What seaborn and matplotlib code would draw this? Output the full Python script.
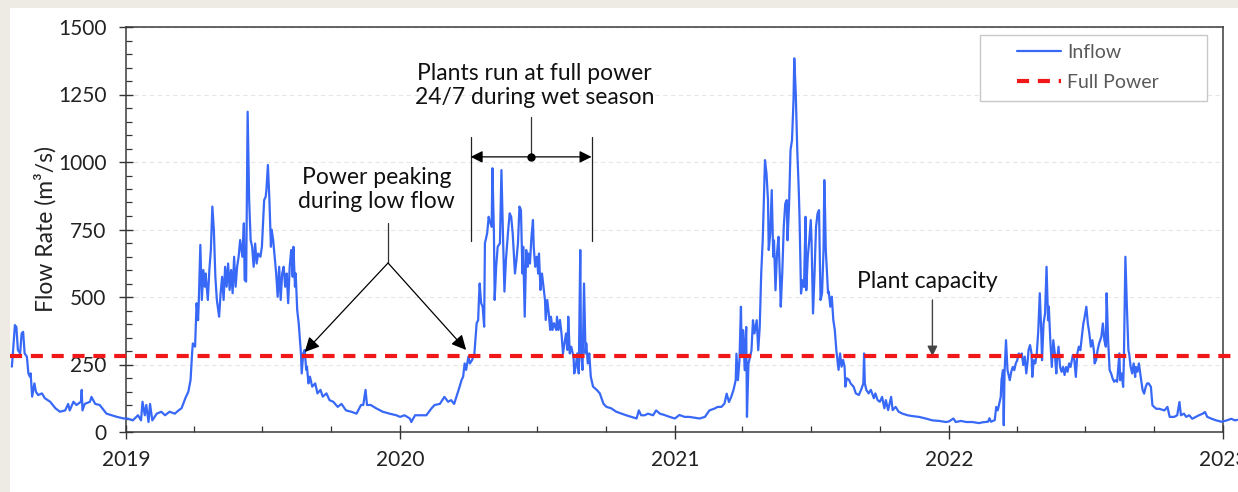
"""
Daily river inflow vs. hydro plant capacity, 2019-2022.
Writes out.png
"""

import pandas as pd
import matplotlib
matplotlib.use("Agg")
import matplotlib.pyplot as plt
import matplotlib.dates as mdates
from matplotlib.lines import Line2D
from matplotlib.patches import Rectangle
from matplotlib.ticker import MultipleLocator
import seaborn as sns

# ── data ─────────────────────────────────────────────────────────────────────
# x = days counted from 2019-01-01, y = inflow in m3/s
day_a = [-152, -150, -148, -146, -144, -141, -139, -137, -135, -132,
         -130, -128, -127, -125, -122, -120, -117, -112, -108, -101,
         -94, -88, -81, -77, -75, -70, -66, -60, -59, -58,
         -55, -48, -46, -41, -35, -26, -19, -12, -3, 2,
         9, 16, 20, 22, 25, 27, 30, 32, 35, 41,
         47, 52, 58, 65, 70]
flow_a = [242, 316, 396, 389, 304, 291, 365, 371, 291, 279,
          217, 205, 217, 131, 180, 149, 137, 143, 125, 112,
          88, 75, 80, 104, 80, 112, 100, 112, 156, 80,
          104, 112, 130, 104, 100, 68, 62, 56, 50, 50,
          43, 62, 43, 112, 62, 100, 37, 104, 43, 68,
          75, 62, 75, 68, 80]

day_b = [74, 79, 83, 86, 88, 89, 92, 94, 96, 97,
         99, 101, 103, 105, 106, 109, 111, 113, 115, 117,
         119, 121, 124, 126, 128, 130, 132, 134, 136, 138,
         140, 142, 144, 146, 148, 150, 152, 155, 157, 158,
         160, 162, 164, 166, 168, 170, 172, 174, 176, 179,
         181, 184, 186, 187, 189, 191, 193, 194, 196, 198,
         200, 202, 204, 206, 208, 210, 212, 214, 216, 218,
         220, 222, 223, 225, 226, 228, 230, 233, 234, 236,
         238, 240, 241, 243, 245, 248, 252, 255, 259, 262,
         267, 271, 276, 282]
flow_b = [88, 125, 149, 193, 291, 328, 316, 477, 414, 489,
          693, 489, 600, 538, 587, 489, 600, 674, 835, 749,
          575, 489, 427, 514, 575, 489, 612, 538, 624, 526,
          600, 514, 649, 538, 612, 649, 711, 649, 773, 563,
          557, 1186, 859, 711, 686, 612, 698, 624, 661, 649,
          686, 859, 871, 896, 989, 859, 686, 749, 711, 649,
          587, 501, 612, 489, 587, 612, 538, 587, 477, 612,
          674, 575, 686, 538, 587, 452, 403, 291, 217, 291,
          304, 230, 242, 180, 205, 168, 180, 143, 156, 131,
          143, 118, 112, 93]

day_c = [287, 293, 300, 307, 313, 316, 319, 321, 326, 333,
         342, 351, 360, 365, 371, 378, 380, 385, 391, 400,
         407, 411, 418, 424, 429, 433, 437, 443, 447, 449,
         451, 453, 456, 458, 461, 464, 467, 469, 470, 471,
         473, 475, 477, 478, 481, 483]
flow_c = [104, 80, 75, 68, 100, 100, 156, 100, 100, 88,
          75, 68, 62, 56, 62, 50, 37, 62, 62, 62,
          88, 100, 104, 130, 112, 118, 104, 156, 193, 205,
          254, 230, 279, 254, 267, 291, 403, 414, 489, 550,
          477, 464, 390, 699, 736, 797]

day_d = [484, 487, 488, 490, 491, 493, 495, 498, 500, 502,
         504, 506, 509, 511, 513, 515, 518, 520, 522, 524,
         526, 528, 529, 531, 533, 535, 536, 538, 540, 542,
         543, 545, 547, 549, 550, 552, 554, 556, 558, 559,
         561, 563, 565, 566, 568, 570, 573, 574, 576, 578,
         580, 582, 584, 586, 588, 589, 591, 593, 596, 597,
         599, 601, 603, 605, 606, 608, 610, 612, 613, 615,
         617, 619, 622, 627, 631, 636, 640, 646, 653, 660,
         666, 673, 680, 683, 686, 691, 695, 702, 706, 711]
flow_d = [785, 760, 977, 736, 489, 612, 686, 699, 970, 736,
          520, 637, 748, 810, 797, 736, 587, 637, 699, 835,
          822, 587, 686, 427, 674, 612, 661, 624, 723, 785,
          686, 612, 649, 587, 661, 526, 587, 538, 489, 415,
          489, 440, 378, 427, 378, 403, 378, 427, 378, 415,
          365, 291, 328, 365, 304, 427, 291, 316, 279, 217,
          242, 291, 217, 674, 291, 230, 550, 291, 328, 254,
          291, 205, 168, 156, 143, 104, 93, 88, 75, 68,
          62, 56, 50, 80, 62, 62, 68, 62, 80, 68]

day_e = [717, 724, 731, 737, 744, 750, 757, 764, 771, 777,
         784, 788, 793, 797, 800, 803, 806, 809, 812, 813,
         815, 817, 819, 820, 822, 824, 826, 827, 829, 831,
         833, 835, 837, 840, 842, 844, 846, 848, 851, 853,
         855, 856, 858, 860, 862, 863, 865, 867, 869, 871,
         872, 874, 876, 878, 880, 881, 883, 885, 887, 889,
         890, 892, 894, 896, 897, 899, 901, 903, 905, 906,
         908, 910, 912, 913, 915, 917, 919, 921]
flow_e = [63, 56, 50, 63, 56, 56, 53, 50, 56, 80,
          87, 93, 93, 105, 142, 111, 130, 155, 192, 290,
          192, 266, 464, 290, 377, 229, 389, 56, 253, 278,
          302, 414, 365, 414, 303, 389, 588, 710, 1007, 958,
          859, 674, 735, 896, 649, 710, 525, 661, 723, 562,
          464, 587, 760, 846, 859, 710, 834, 1044, 1081, 1229,
          1384, 1254, 1044, 896, 797, 513, 562, 537, 797, 525,
          649, 710, 785, 710, 439, 587, 760, 809]

day_f = [923, 925, 927, 929, 930, 931, 932, 935, 936, 938,
         940, 942, 944, 946, 948, 949, 951, 953, 955, 957,
         958, 960, 963, 965, 969, 972, 976, 979, 982, 983,
         984, 986, 989, 992, 996, 998, 1001, 1004, 1007, 1010,
         1012, 1015, 1017, 1019, 1021, 1025, 1029, 1034, 1041, 1047,
         1056, 1065, 1074, 1083, 1092, 1096, 1102, 1105, 1112, 1119,
         1127, 1136]
flow_f = [822, 489, 514, 674, 933, 822, 674, 514, 520, 464,
          501, 415, 378, 304, 254, 230, 291, 242, 267, 242,
          168, 199, 193, 180, 168, 143, 137, 156, 180, 291,
          180, 156, 143, 156, 125, 143, 118, 112, 130, 88,
          118, 81, 105, 130, 81, 93, 75, 68, 62, 59,
          56, 50, 43, 41, 37, 39, 50, 37, 41, 37,
          37, 33]

day_g = [1141, 1148, 1150, 1152, 1157, 1159, 1161, 1163, 1165, 1166,
         1168, 1169, 1170, 1172, 1174, 1175, 1177, 1179, 1181, 1183,
         1185, 1187, 1189, 1191, 1193, 1195, 1197, 1199, 1201, 1202,
         1204, 1206, 1207, 1209, 1211, 1213, 1215, 1217, 1219, 1220,
         1222, 1224, 1226, 1228, 1229, 1231, 1233, 1235, 1237, 1239,
         1240, 1242, 1244, 1246, 1248, 1250, 1252, 1254, 1256, 1258,
         1261, 1263, 1265, 1267, 1269, 1271, 1273, 1275, 1276, 1279,
         1281, 1283, 1285, 1287, 1289, 1290, 1292, 1294]
flow_g = [36, 38, 51, 38, 44, 93, 80, 105, 130, 192,
          229, 25, 217, 340, 229, 217, 192, 223, 241, 229,
          254, 266, 291, 279, 291, 248, 279, 217, 266, 303,
          322, 291, 204, 266, 254, 291, 377, 514, 365, 266,
          402, 439, 612, 414, 464, 340, 241, 340, 291, 217,
          266, 316, 241, 223, 241, 211, 241, 223, 254, 241,
          285, 266, 204, 291, 316, 303, 353, 402, 414, 464,
          402, 365, 316, 340, 303, 254, 266, 303]

day_h = [1296, 1299, 1301, 1303, 1305, 1306, 1308, 1310, 1312, 1314,
         1316, 1318, 1320, 1323, 1324, 1326, 1328, 1329, 1331, 1333,
         1335, 1336, 1338, 1340, 1342, 1344, 1345, 1347, 1349, 1352,
         1354, 1356, 1358, 1360, 1362, 1365, 1367, 1372, 1376, 1383,
         1387, 1390, 1396, 1400, 1403, 1405, 1409, 1412, 1416, 1420,
         1425, 1429, 1434, 1437, 1440, 1446, 1452, 1459, 1466, 1472,
         1477, 1480]
flow_h = [328, 353, 402, 340, 316, 514, 340, 229, 217, 198,
          186, 192, 186, 291, 192, 217, 167, 266, 649, 464,
          303, 291, 241, 217, 254, 204, 241, 223, 254, 192,
          155, 142, 167, 180, 180, 167, 99, 86, 86, 80,
          93, 56, 56, 62, 111, 62, 68, 56, 62, 49,
          56, 62, 68, 74, 56, 49, 43, 38, 43, 49,
          43, 45]

CAPACITY = 280          # full-power flow, m3/s
CAP_SPAN = [-154, 1480]  # dashed line runs past both axis ends

BLUE = "#3868f6"
RED = "#f01818"
BASE = pd.Timestamp("2019-01-01")

# ── assemble ─────────────────────────────────────────────────────────────────
days = day_a + day_b + day_c + day_d + day_e + day_f + day_g + day_h
flow = flow_a + flow_b + flow_c + flow_d + flow_e + flow_f + flow_g + flow_h
assert len(days) == len(flow)
df = pd.DataFrame({"date": BASE + pd.to_timedelta(days, unit="D"), "inflow": flow})
cap_dates = BASE + pd.to_timedelta(CAP_SPAN, unit="D")

sns.set_style("white")
plt.rcParams["font.family"] = ["Lato", "DejaVu Sans"]

fig = plt.figure(figsize=(12.38, 4.92), dpi=100)
fig.patch.set_facecolor("#eeebe4")
fig.patches.append(Rectangle((10 / 1238, 0), 1, 484 / 492, transform=fig.transFigure,
                             facecolor="white", edgecolor="none", zorder=-5))
ax = fig.add_axes([126 / 1238, 60 / 492, 1097 / 1238, 405 / 492])

sns.lineplot(data=df, x="date", y="inflow", ax=ax, color=BLUE, lw=1.6,
             estimator=None, sort=False, clip_on=False, zorder=3)
ax.plot(cap_dates, [CAPACITY, CAPACITY], color=RED, lw=3, dashes=(2.9, 2.1),
        clip_on=False, zorder=4)

# ── axes cosmetics ───────────────────────────────────────────────────────────
ax.set_xlim(pd.Timestamp("2019-01-01"), pd.Timestamp("2023-01-01"))
ax.set_ylim(0, 1500)
ax.set_yticks(range(0, 1501, 250))
ax.yaxis.set_minor_locator(MultipleLocator(50))
ax.xaxis.set_major_locator(mdates.YearLocator())
ax.xaxis.set_minor_locator(mdates.MonthLocator(bymonth=[4, 7, 10]))
ax.xaxis.set_major_formatter(mdates.DateFormatter("%Y"))
ax.tick_params(which="major", direction="inout", length=10, width=1,
               color="#333333", labelcolor="#222222", labelsize=15,
               bottom=True, left=True)
ax.tick_params(axis="x", which="major", pad=8)
ax.tick_params(axis="y", which="major", pad=9)
ax.tick_params(which="minor", direction="in", length=4.5, width=0.9,
               color="#333333", bottom=True, left=True)
ax.grid(axis="y", which="major", color="#e6e6e6", lw=0.8, ls=(0, (4, 3)))
ax.set_axisbelow(True)
for sp in ax.spines.values():
    sp.set_color("#3a3a3a")
    sp.set_linewidth(1.1)
ax.set_xlabel("")
ax.set_ylabel("Flow Rate (m³/s)", fontsize=16.5, color="#222222", labelpad=1)

# ── annotations ──────────────────────────────────────────────────────────────
txt = dict(ha="center", va="center", fontsize=16.5, color="#111111", linespacing=1.15)
head = dict(color="black", lw=0.9, shrinkA=0, shrinkB=0)

# power peaking during low flow
ax.text(pd.Timestamp("2019-12-01"), 898, "Power peaking\nduring low flow", **txt)
stem = pd.Timestamp("2019-12-16")
ax.plot([stem, stem], [774, 626], color="#333333", lw=0.9)
for tip in [(pd.Timestamp("2019-08-27"), 296), (pd.Timestamp("2020-03-29"), 304)]:
    ax.annotate("", xy=tip, xytext=(stem, 626),
                arrowprops=dict(arrowstyle="-|>", mutation_scale=22, **head))

# full power during wet season
left, right = pd.Timestamp("2020-04-04"), pd.Timestamp("2020-09-12")
mid = pd.Timestamp("2020-06-23")
for xb in (left, right):
    ax.plot([xb, xb], [707, 1093], color="#222222", lw=0.9)
ax.annotate("", xy=(right, 1019), xytext=(left, 1019),
            arrowprops=dict(arrowstyle="<|-|>", mutation_scale=18, **head))
ax.plot([mid, mid], [1019, 1167], color="#333333", lw=0.9)
ax.plot(mid, 1019, "o", color="black", ms=5)
ax.text(pd.Timestamp("2020-06-28"), 1283,
        "Plants run at full power\n24/7 during wet season", **txt)

# plant capacity
ax.text(pd.Timestamp("2021-12-03"), 556, "Plant capacity", **txt)
ax.annotate("", xy=(pd.Timestamp("2021-12-10"), 281),
            xytext=(pd.Timestamp("2021-12-10"), 489),
            arrowprops=dict(arrowstyle="-|>", mutation_scale=15,
                            color="#444444", lw=1.0, shrinkA=0, shrinkB=0))

# ── legend ───────────────────────────────────────────────────────────────────
ax.add_patch(Rectangle((0.7785, 0.8173), 0.2069, 0.1629, transform=ax.transAxes,
                       facecolor="white", edgecolor="#c8c8c8", lw=1, zorder=6))
handles = [Line2D([], [], color=BLUE, lw=1.6),
           Line2D([], [], color=RED, lw=3, dashes=(2.9, 2.1))]
leg = ax.legend(handles, ["Inflow", "Full Power"], loc="center left",
                bbox_to_anchor=(0.812, 0.900), frameon=False, fontsize=14,
                handlelength=2.3, handletextpad=0.3, labelspacing=0.7,
                borderpad=0, borderaxespad=0)
leg.set_zorder(7)
for t in leg.get_texts():
    t.set_color("#595959")

fig.savefig("out.png", dpi=100)
plt.close(fig)
